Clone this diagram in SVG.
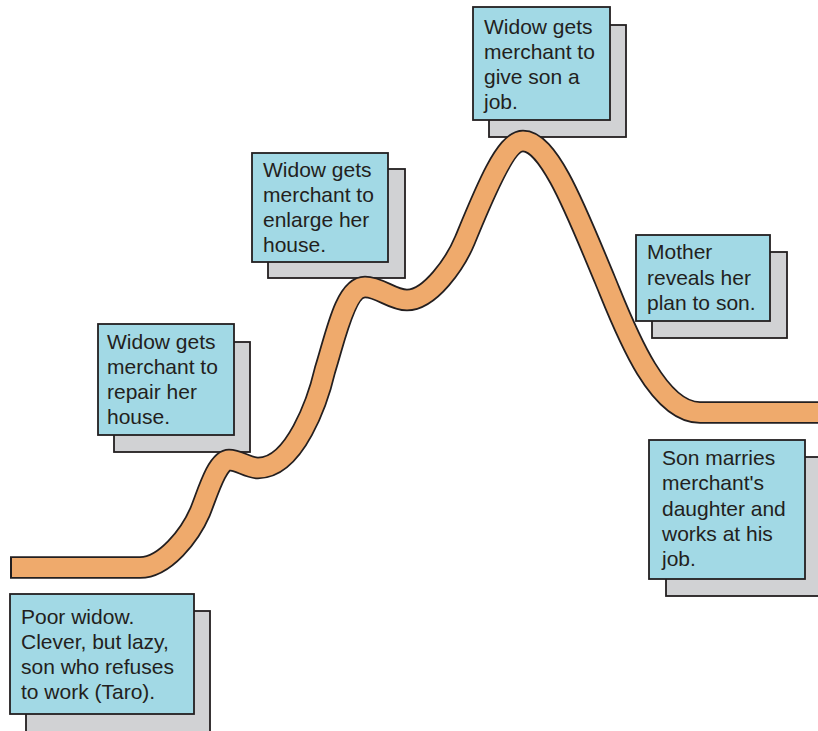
<svg xmlns="http://www.w3.org/2000/svg" width="818" height="731" viewBox="0 0 818 731">
<style>
.sh{fill:#d1d2d4;stroke:#231f20;stroke-width:1.8}
.bx{fill:#a2d9e5;stroke:#231f20;stroke-width:1.8}
.t{font-family:"Liberation Sans",Arial,sans-serif;font-size:21px;fill:#231f20}
.edge{fill:none;stroke:#231f20;stroke-width:22.5}
.band{fill:none;stroke:#efaa6c;stroke-width:19}
</style>
<rect width="818" height="731" fill="#ffffff"/>
<g id="n1">
<rect class="sh" x="26" y="611" width="184" height="135"/>
<rect class="bx" x="10" y="594" width="184" height="120"/>
<text class="t" x="21" y="624">Poor widow.<tspan x="21" dy="25">Clever, but lazy,</tspan><tspan x="21" dy="25">son who refuses</tspan><tspan x="21" dy="25">to work (Taro).</tspan></text>
</g>
<g id="n2">
<rect class="sh" x="114" y="342" width="136" height="110"/>
<rect class="bx" x="98" y="324" width="136" height="111"/>
<text class="t" x="107" y="349">Widow gets<tspan x="107" dy="25">merchant to</tspan><tspan x="107" dy="25">repair her</tspan><tspan x="107" dy="25">house.</tspan></text>
</g>
<g id="n3">
<rect class="sh" x="268" y="169" width="137" height="109"/>
<rect class="bx" x="252" y="153" width="136" height="109"/>
<text class="t" x="263" y="177">Widow gets<tspan x="263" dy="25">merchant to</tspan><tspan x="263" dy="25">enlarge her</tspan><tspan x="263" dy="25">house.</tspan></text>
</g>
<g id="n4">
<rect class="sh" x="489" y="25" width="137" height="112"/>
<rect class="bx" x="473" y="7" width="137" height="113"/>
<text class="t" x="484" y="34">Widow gets<tspan x="484" dy="25">merchant to</tspan><tspan x="484" dy="25">give son a</tspan><tspan x="484" dy="25">job.</tspan></text>
</g>
<g id="n5">
<rect class="sh" x="652" y="252" width="135" height="86"/>
<rect class="bx" x="636" y="235" width="134" height="86"/>
<text class="t" x="647" y="259">Mother<tspan x="647" dy="25.5">reveals her</tspan><tspan x="647" dy="25.5">plan to son.</tspan></text>
</g>
<g id="n6">
<rect class="sh" x="666" y="457" width="160" height="139"/>
<rect class="bx" x="649" y="440" width="156" height="139"/>
<text class="t" x="662" y="465">Son marries<tspan x="662" dy="25.3">merchant's</tspan><tspan x="662" dy="25.3">daughter and</tspan><tspan x="662" dy="25.3">works at his</tspan><tspan x="662" dy="25.3">job.</tspan></text>
</g>
<g id="connectors">
<path class="edge" d="M10 567.5 L140 567.5 C165 567.5 190 535 200 512 C207 495 217 460 229 460 C239 460 248 468 258 468 C295 468 318 400 325 370 C335.5 337 345 287 365 287 C380 287 392 300 407 300 C430 300 455.5 263 465 240 C484 194 505 141 523 141 C550 141 578 216 605 280 C622 321 655 412.5 700 412.5 L830 412.5"/>
<path class="band" d="M12 567.5 L140 567.5 C165 567.5 190 535 200 512 C207 495 217 460 229 460 C239 460 248 468 258 468 C295 468 318 400 325 370 C335.5 337 345 287 365 287 C380 287 392 300 407 300 C430 300 455.5 263 465 240 C484 194 505 141 523 141 C550 141 578 216 605 280 C622 321 655 412.5 700 412.5 L830 412.5"/>
</g>
</svg>
